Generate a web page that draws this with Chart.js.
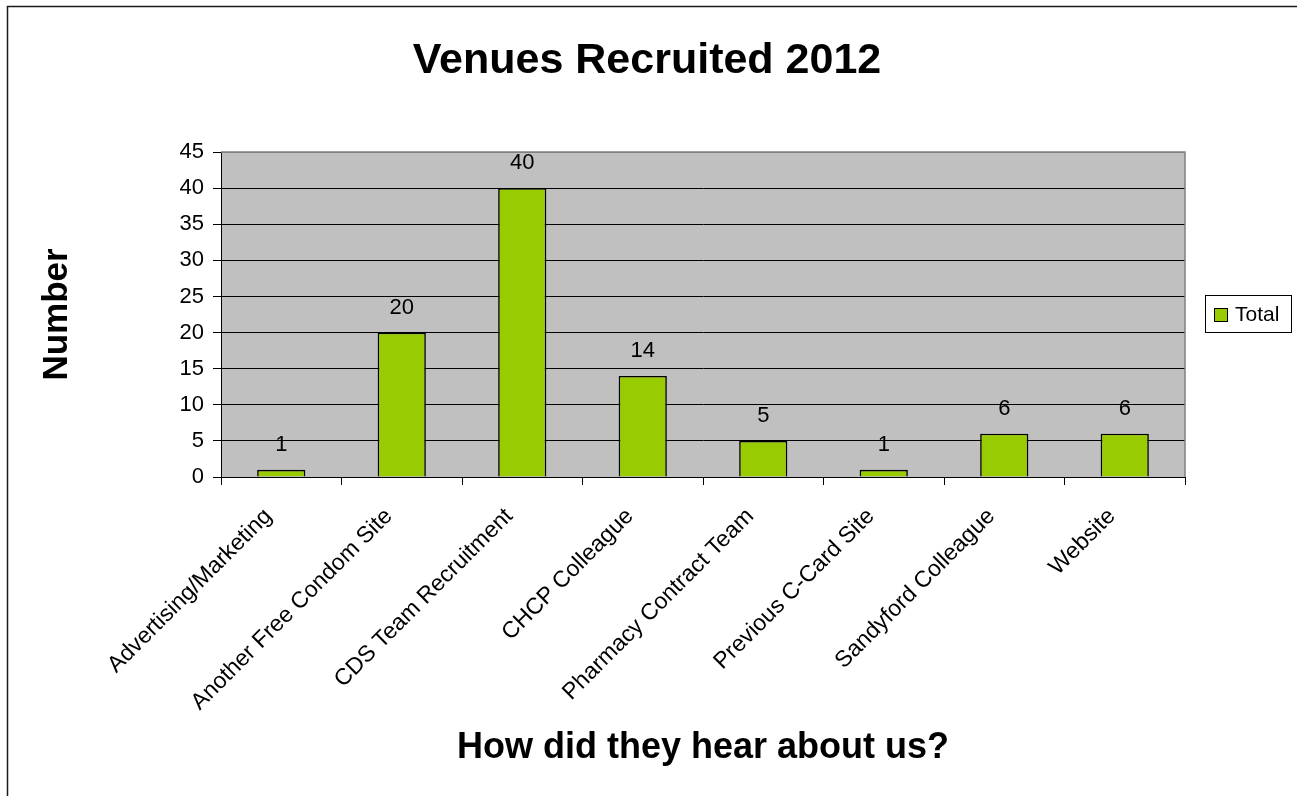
<!DOCTYPE html>
<html>
<head>
<meta charset="utf-8">
<script src="https://cdn.jsdelivr.net/npm/chart.js@4/dist/chart.umd.min.js"></script>
<style>
html,body{margin:0;padding:0;background:#fff;overflow:hidden;}
canvas{display:block;}
</style>
</head>
<body>
<canvas id="c" width="1297" height="796"></canvas>
<script>
const categories = ['Advertising/Marketing','Another Free Condom Site','CDS Team Recruitment','CHCP Colleague','Pharmacy Contract Team','Previous C-Card Site','Sandyford Colleague','Website'];
const totalValues = [1, 20, 40, 14, 5, 1, 6, 6];
const seriesName = 'Total';
const chartTitle = 'Venues Recruited 2012';
const xTitle = 'How did they hear about us?';
const yTitle = 'Number';
const yMin = 0, yMax = 45, yStep = 5;

const FONT = '"Liberation Sans", Arial, sans-serif';
const BAR_COLOR = '#99CC00';

const plotBg = {
  id: 'plotBg',
  beforeDraw(chart) {
    const {ctx, chartArea: a} = chart;
    ctx.save();
    ctx.fillStyle = '#C0C0C0';
    ctx.fillRect(a.left, a.top, a.right - a.left, a.bottom - a.top);
    ctx.restore();
  },
  beforeDatasetsDraw(chart) {
    const {ctx, chartArea: a} = chart;
    ctx.save();
    ctx.strokeStyle = '#808080';
    ctx.lineWidth = 1.5;
    ctx.beginPath();
    ctx.moveTo(a.left, a.top);
    ctx.lineTo(a.right, a.top);
    ctx.lineTo(a.right, a.bottom);
    ctx.stroke();
    ctx.restore();
  }
};

const valueLabels = {
  id: 'valueLabels',
  afterDatasetsDraw(chart) {
    const {ctx} = chart;
    ctx.save();
    ctx.font = '22px ' + FONT;
    ctx.fillStyle = '#000';
    ctx.textAlign = 'center';
    ctx.textBaseline = 'middle';
    chart.data.datasets.forEach((ds, di) => {
      chart.getDatasetMeta(di).data.forEach((bar, i) => {
        ctx.fillText(String(ds.data[i]), bar.x, bar.y - 25);
      });
    });
    ctx.restore();
  }
};

const boxLegendAndTitle = {
  id: 'boxLegendAndTitle',
  afterDraw(chart) {
    const {ctx} = chart;
    ctx.save();
    // title, centred on the whole page
    ctx.fillStyle = '#000';
    ctx.font = 'bold 43px ' + FONT;
    ctx.textAlign = 'center';
    ctx.textBaseline = 'middle';
    ctx.fillText(chartTitle, 647, 61);
    // legend
    ctx.fillStyle = '#fff';
    ctx.fillRect(1205.5, 295.5, 86, 37);
    ctx.strokeStyle = '#000';
    ctx.lineWidth = 1;
    ctx.strokeRect(1205.5, 295.5, 86, 37);
    ctx.fillStyle = chart.data.datasets[0].backgroundColor;
    ctx.fillRect(1214.5, 308.5, 13, 13);
    ctx.strokeRect(1214.5, 308.5, 13, 13);
    ctx.fillStyle = '#000';
    ctx.font = '21px ' + FONT;
    ctx.textAlign = 'left';
    ctx.textBaseline = 'middle';
    ctx.fillText(chart.data.datasets[0].label, 1235, 315);
    // outer frame
    ctx.strokeStyle = '#1a1a1a';
    ctx.lineWidth = 1.5;
    ctx.beginPath();
    ctx.moveTo(7.5, 800);
    ctx.lineTo(7.5, 6.5);
    ctx.lineTo(1300, 6.5);
    ctx.stroke();
    ctx.restore();
  }
};

new Chart(document.getElementById('c'), {
  type: 'bar',
  data: {
    labels: categories,
    datasets: [{
      label: seriesName,
      data: totalValues,
      backgroundColor: BAR_COLOR,
      borderColor: '#000',
      borderWidth: 1.6,
      barPercentage: 0.4,
      categoryPercentage: 1.0
    }]
  },
  options: {
    responsive: false,
    devicePixelRatio: 1,
    animation: false,
    layout: {padding: {left: 0, right: 112, top: 152, bottom: 0}},
    plugins: {
      legend: {display: false},
      tooltip: {enabled: false},
      title: {display: false}
    },
    scales: {
      x: {
        offset: true,
        grid: {display: true, drawOnChartArea: false, drawTicks: true, tickLength: 8, color: '#000', offset: true},
        border: {display: true, color: '#000', width: 1},
        ticks: {
          color: '#000',
          font: {family: FONT, size: 23},
          maxRotation: 45, minRotation: 45, autoSkip: false,
          padding: 18, labelOffset: -13
        },
        title: {
          display: true, text: xTitle, color: '#000',
          font: {family: FONT, size: 36, weight: 'bold'},
          padding: {top: 0, bottom: 26}
        },
        afterFit(scale) { scale.height = 319; }
      },
      y: {
        min: yMin, max: yMax,
        grid: {
          color: (c) => (c.tick && c.tick.value === yMax) ? '#808080' : '#000',
          tickColor: '#000',
          lineWidth: 1, drawTicks: true, tickLength: 8
        },
        border: {display: true, color: '#000', width: 1},
        ticks: {
          stepSize: yStep, color: '#000',
          font: {family: FONT, size: 22}, padding: 9
        },
        title: {
          display: true, text: yTitle, color: '#000',
          font: {family: FONT, size: 35, weight: 'bold'},
          padding: {top: 36, bottom: 0}
        },
        afterFit(scale) { scale.width = 221; }
      }
    }
  },
  plugins: [plotBg, valueLabels, boxLegendAndTitle]
});
</script>
</body>
</html>
